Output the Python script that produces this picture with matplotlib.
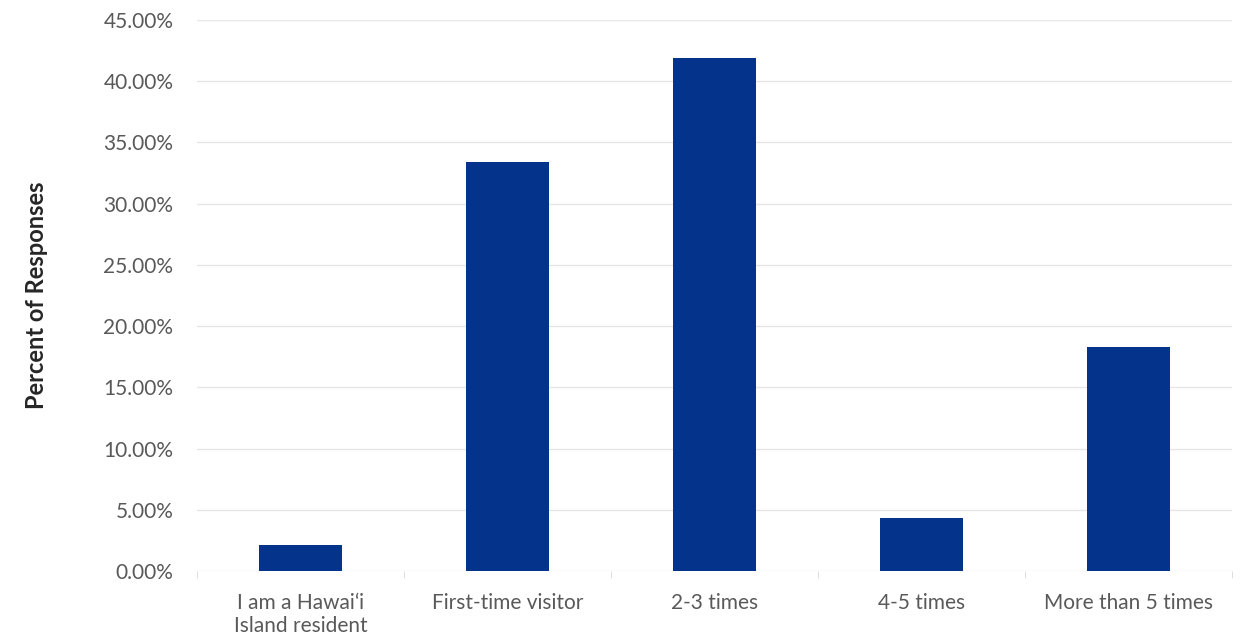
import matplotlib.pyplot as plt
from matplotlib.ticker import FuncFormatter, FixedLocator
import numpy as np

categories = ['I am a Hawai\u02bbi\nIsland resident', 'First-time visitor', '2-3 times',
              '4-5 times', 'More than 5 times']
percents = [2.15, 33.4, 41.9, 4.35, 18.3]

plt.rcParams['font.family'] = ['Lato', 'DejaVu Sans']

fig = plt.figure(figsize=(12.47, 6.42), dpi=100)
ax = fig.add_axes([0.158, 0.1106, 0.830, 0.8582])

x = np.arange(len(categories))
ax.bar(x, percents, width=0.4, color='#03338A', zorder=3)

ax.set_xlim(-0.5, len(categories) - 0.5)
ax.set_ylim(0, 45)
ax.set_yticks(np.arange(0, 46, 5))
ax.yaxis.set_major_formatter(FuncFormatter(lambda v, p: f'{v:.2f}%'))
ax.grid(axis='y', color='#e6e6e6', linewidth=1, zorder=0)

ax.set_xticks(x)
ax.set_xticklabels(categories, linespacing=1.15)
ax.xaxis.set_minor_locator(FixedLocator(np.arange(-0.5, len(categories), 1)))
ax.tick_params(axis='x', which='major', length=0, pad=16, labelsize=15, labelcolor='#595959')
ax.tick_params(axis='x', which='minor', length=5, color='#d9d9d9', direction='out')
ax.tick_params(axis='y', length=0, pad=17, labelsize=15, labelcolor='#595959')

for s in ax.spines.values():
    s.set_visible(False)

ax.set_ylabel('Percent of Responses', fontsize=17, fontweight='bold', color='#262626', labelpad=40)

fig.savefig('out.png', dpi=100)
